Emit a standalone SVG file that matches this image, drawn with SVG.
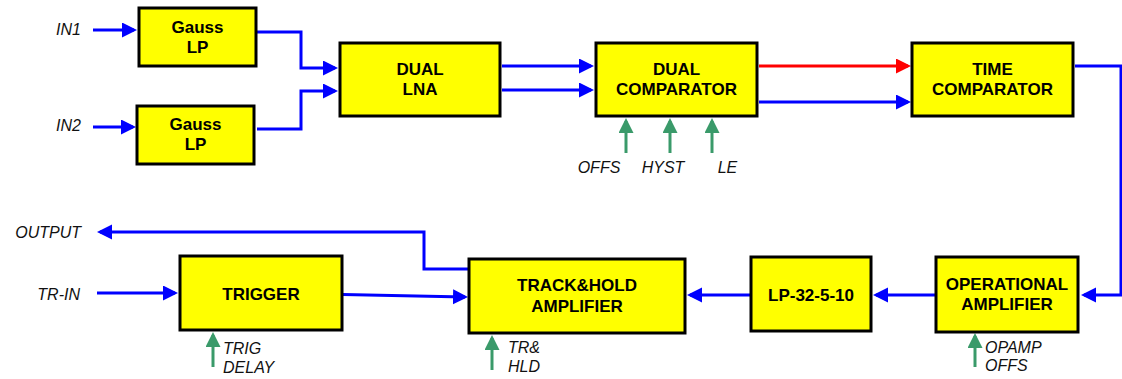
<svg xmlns="http://www.w3.org/2000/svg" width="1122" height="379" viewBox="0 0 1122 379">
<style>
.box{fill:#ffff00;stroke:#000;stroke-width:3}
.bt{font-family:"Liberation Sans",Arial,sans-serif;font-weight:bold;font-size:17px;text-anchor:middle;fill:#000}
.lb{font-family:"Liberation Sans",Arial,sans-serif;font-style:italic;font-size:16px;fill:#111}
.end{text-anchor:end}
.mid{text-anchor:middle}
.cb{fill:none;stroke:#0000ff;stroke-width:3}
.cr{fill:none;stroke:#ff0000;stroke-width:3}
.cg{fill:none;stroke:#3a9a6a;stroke-width:3}
</style>
<defs>
<marker id="ab" markerUnits="userSpaceOnUse" markerWidth="16" markerHeight="16" refX="12" refY="7.5" orient="auto"><path d="M0,0 L15,7.5 L0,15 z" fill="#0000ff"/></marker>
<marker id="ar" markerUnits="userSpaceOnUse" markerWidth="16" markerHeight="16" refX="12" refY="7.5" orient="auto"><path d="M0,0 L15,7.5 L0,15 z" fill="#ff0000"/></marker>
<marker id="ag" markerUnits="userSpaceOnUse" markerWidth="16" markerHeight="16" refX="12" refY="7.5" orient="auto"><path d="M0,0 L15,7.5 L0,15 z" fill="#3a9a6a"/></marker>
</defs>
<g id="connectors">
<path class="cb" d="M93,30 H134" marker-end="url(#ab)"/>
<path class="cb" d="M93,127 H133" marker-end="url(#ab)"/>
<path class="cb" d="M257,32 H301 V68 H335" marker-end="url(#ab)"/>
<path class="cb" d="M257,129 H301 V91 H335" marker-end="url(#ab)"/>
<path class="cb" d="M502,66 H591" marker-end="url(#ab)"/>
<path class="cb" d="M502,90 H591" marker-end="url(#ab)"/>
<path class="cr" d="M759,66 H908" marker-end="url(#ar)"/>
<path class="cb" d="M759,102 H908" marker-end="url(#ab)"/>
<path class="cb" d="M1075,66 H1121 V295 H1084" marker-end="url(#ab)"/>
<path class="cb" d="M935,295 H876" marker-end="url(#ab)"/>
<path class="cb" d="M750,295 H690" marker-end="url(#ab)"/>
<path class="cb" d="M343,294.5 L465,297" marker-end="url(#ab)"/>
<path class="cb" d="M97,293 H175" marker-end="url(#ab)"/>
<path class="cb" d="M469,269 H424 V232 H100" marker-end="url(#ab)"/>
<path class="cg" d="M626,153 V121" marker-end="url(#ag)"/>
<path class="cg" d="M670,153 V121" marker-end="url(#ag)"/>
<path class="cg" d="M712,153 V121" marker-end="url(#ag)"/>
<path class="cg" d="M213,367 V335" marker-end="url(#ag)"/>
<path class="cg" d="M492,370 V338" marker-end="url(#ag)"/>
<path class="cg" d="M975,367 V336" marker-end="url(#ag)"/>
</g>
<g id="gauss1"><rect class="box" x="139" y="8" width="117" height="58"/><text class="bt" x="197.5" y="33">Gauss</text><text class="bt" x="197.5" y="53">LP</text></g>
<g id="gauss2"><rect class="box" x="137" y="106" width="117" height="58"/><text class="bt" x="195.5" y="130">Gauss</text><text class="bt" x="195.5" y="150">LP</text></g>
<g id="dual-lna"><rect class="box" x="340" y="43" width="160" height="73"/><text class="bt" x="420" y="75">DUAL</text><text class="bt" x="420" y="95">LNA</text></g>
<g id="dual-comparator"><rect class="box" x="596" y="43" width="161" height="73"/><text class="bt" x="676.5" y="75">DUAL</text><text class="bt" x="676.5" y="95">COMPARATOR</text></g>
<g id="time-comparator"><rect class="box" x="912" y="43" width="161" height="73"/><text class="bt" x="992.5" y="75">TIME</text><text class="bt" x="992.5" y="95">COMPARATOR</text></g>
<g id="trigger"><rect class="box" x="180" y="256" width="162" height="74"/><text class="bt" x="261" y="300">TRIGGER</text></g>
<g id="track-hold"><rect class="box" x="469" y="259" width="216" height="74"/><text class="bt" x="577" y="291">TRACK&amp;HOLD</text><text class="bt" x="577" y="312">AMPLIFIER</text></g>
<g id="lp-32-5-10"><rect class="box" x="751" y="257" width="120" height="74"/><text class="bt" x="811" y="301">LP-32-5-10</text></g>
<g id="opamp"><rect class="box" x="936" y="257" width="142" height="75"/><text class="bt" x="1007" y="290">OPERATIONAL</text><text class="bt" x="1007" y="310">AMPLIFIER</text></g>
<g id="labels">
<text class="lb end" x="81" y="35">IN1</text>
<text class="lb end" x="81" y="131">IN2</text>
<text class="lb mid" x="599" y="173">OFFS</text>
<text class="lb mid" x="663" y="173">HYST</text>
<text class="lb mid" x="727.5" y="173">LE</text>
<text class="lb end" x="81" y="238">OUTPUT</text>
<text class="lb end" x="80" y="300">TR-IN</text>
<text class="lb" x="223" y="354">TRIG</text>
<text class="lb" x="223" y="373">DELAY</text>
<text class="lb" x="508" y="353">TR&amp;</text>
<text class="lb" x="508" y="372">HLD</text>
<text class="lb" x="985" y="353">OPAMP</text>
<text class="lb" x="985" y="371">OFFS</text>
</g>
</svg>
